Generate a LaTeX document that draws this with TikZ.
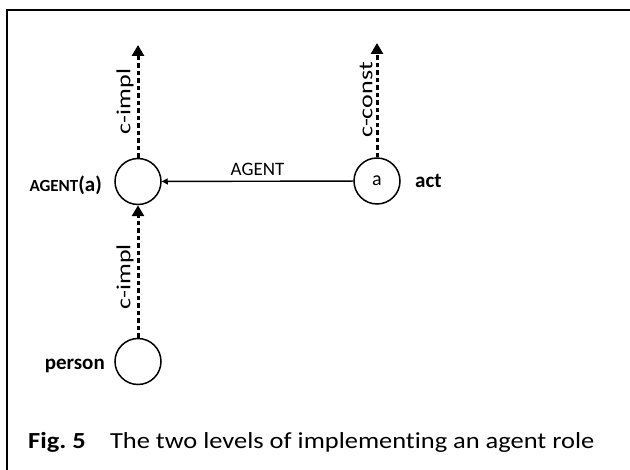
\documentclass[tikz,border=0pt]{standalone}
\usepackage{fontspec}
\setmainfont{Carlito}[Ligatures=NoCommon]
% extended face for the connector tags that run up the dashed lines
\newfontfamily\tagfont{Carlito}[FakeStretch=1.3]
\usetikzlibrary{arrows.meta}
\begin{document}
\begin{tikzpicture}[x=1pt,y=-1pt,
  concept/.style={circle,draw,line width=1.5pt,minimum size=46pt,inner sep=0pt,
    font=\fontsize{20}{22}\selectfont},
  sidelabel/.style={font=\fontsize{21}{23}\selectfont\bfseries,inner sep=0pt},
  realize/.style={line width=3pt,dash pattern=on 4.5pt off 3pt,
    -{Triangle[width=12pt,length=11pt]}},
  rel/.style={line width=1.4pt,-{Triangle[width=6pt,length=6pt]}},
  tag/.style={font=\tagfont\fontsize{20}{22}\selectfont,rotate=90,
    anchor=south,inner sep=3pt},
  reltag/.style={font=\fontsize{19}{21}\selectfont,above,inner sep=5pt}
]
\useasboundingbox (0,0) rectangle (630,470);
% frame
\draw[line width=2pt] (7,470) -- (7,10) -- (630,10);

% concepts
\node[concept] (ag)  at (138,181.5) {};
\node[concept] (act) at (377,181)   {a};
\node[concept] (per) at (138,361.5) {};

\coordinate (agtop)  at (138,45);
\coordinate (acttop) at (377,43);

% side labels
\node[sidelabel,anchor=base east] (aglbl) at (102,192)
  {{\fontsize{17}{19}\selectfont AGENT}(a)};
\node[sidelabel,anchor=base east] (perlbl) at (105,370) {person};
\node[sidelabel,anchor=base west] (actlbl) at (415,188) {act};

% connectors
\draw[realize] (ag) -- node[tag,midway] {c-impl} (agtop);
\draw[realize] (act) -- node[tag,midway] {c-const} (acttop);
\draw[realize] (per) -- node[tag,pos=0.46] {c-impl} (ag);
\draw[rel] (act) -- node[reltag,midway] {AGENT} (ag);

% caption
\node[anchor=base west,inner sep=0pt,xscale=1.15,font=\fontsize{23}{27}\selectfont] (cap) at (28,449)
  {\textbf{Fig.\ 5}\hspace{21pt}The two levels of implementing an agent role};
\end{tikzpicture}
\end{document}
